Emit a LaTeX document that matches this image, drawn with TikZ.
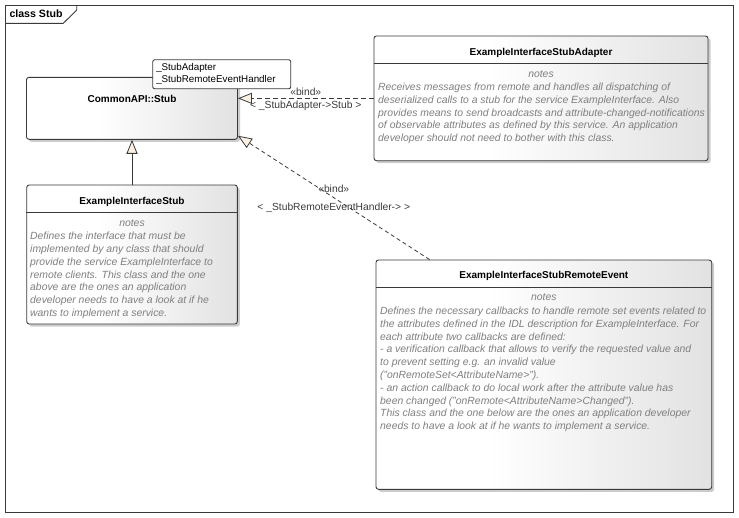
\documentclass[tikz,border=0pt]{standalone}
\usepackage{fontspec}
\setmainfont{Liberation Sans}
\usetikzlibrary{arrows.meta,shadows}
\definecolor{umlline}{HTML}{3A3A3A}
\definecolor{umlnote}{HTML}{7F7F7F}
\definecolor{umlshade}{HTML}{E2E2E2}
\definecolor{tipfill}{HTML}{FCF0E2}
\pgfdeclarehorizontalshading{classshade}{100bp}{color(0bp)=(white); color(25bp)=(white); color(42bp)=(white); color(75bp)=(umlshade); color(100bp)=(umlshade)}
\tikzset{
  classbox/.style={draw=umlline, line width=0.9pt, rounded corners=2.5pt, shading=classshade, inner sep=0pt,
    drop shadow={shadow xshift=2.5pt, shadow yshift=-2.5pt, fill=black!40}},
  classname/.style={font=\fontsize{10}{12}\selectfont\bfseries},
  notehead/.style={font=\fontsize{10.4}{12.8}\selectfont\itshape, text=umlnote},
  notetext/.style={font=\fontsize{10.4}{12.8}\selectfont\itshape, text=umlnote, align=left, inner sep=0pt},
  parambox/.style={draw=umlline, line width=0.9pt, fill=white, rounded corners=2pt, align=left,
    font=\fontsize{9.8}{12}\selectfont, text width=131pt, inner xsep=3.5pt, inner ysep=2.5pt, minimum height=29pt},
  bindlabel/.style={font=\fontsize{10.3}{12}\selectfont, inner sep=2pt},
  bindline/.style={umlline, line width=0.8pt, dash pattern=on 5pt off 3pt, -{Triangle[length=14pt,width=11pt,fill=tipfill]}},
  inheritline/.style={umlline, line width=0.8pt, -{Triangle[length=14pt,width=11pt,fill=tipfill]}}
}
\begin{document}
\begin{tikzpicture}[x=1pt,y=-1pt]
\useasboundingbox (0,0) rectangle (739,517);
% frame
\draw[umlline, line width=0.9pt] (5,5) rectangle (733,512);
\draw[umlline, line width=0.9pt] (5,23.3) -- (63.3,23.3) -- (76.7,10) -- (76.7,5);
\node[classname, font=\fontsize{10.6}{12}\selectfont\bfseries, anchor=west, inner sep=0pt] (frame) at (9.3,14) {class Stub};

% CommonAPI::Stub
\node[classbox, minimum width=211pt, minimum height=62pt] (stub) at (132,108.3) {};
\node[classname] (stubname) at (132,98.7) {CommonAPI::Stub};
\node[parambox, anchor=north west] (params) at (152.3,59.3) {\_StubAdapter\\\_StubRemoteEventHandler};

% ExampleInterfaceStub
\node[classbox, minimum width=210.6pt, minimum height=139pt] (impl) at (132,254.5) {};
\node[classname] (implname) at (132,202) {ExampleInterfaceStub};
\draw[umlline, line width=0.9pt] (impl.west |- 0,212.7) -- (impl.east |- 0,212.7);
\node[notehead] (implhead) at (132,223.3) {notes};
\node[notetext, anchor=north west] (impltext) at (30,232) {Defines the interface that must be\\implemented by any class that should\\provide the service ExampleInterface to\\remote clients. This class and the one\\above are the ones an application\\developer needs to have a look at if he\\wants to implement a service.};

% ExampleInterfaceStubAdapter
\node[classbox, minimum width=334pt, minimum height=124.7pt] (adapter) at (541,98.35) {};
\node[classname] (adaptername) at (541,52.7) {ExampleInterfaceStubAdapter};
\draw[umlline, line width=0.9pt] (adapter.west |- 0,63.3) -- (adapter.east |- 0,63.3);
\node[notehead] (adapterhead) at (541,74.3) {notes};
\node[notetext, anchor=north west] (adaptertext) at (378,82.7) {Receives messages from remote and handles all dispatching of\\deserialized calls to a stub for the service ExampleInterface. Also\\provides means to send broadcasts and attribute-changed-notifications\\of observable attributes as defined by this service. An application\\developer should not need to bother with this class.};

% ExampleInterfaceStubRemoteEvent
\node[classbox, minimum width=335.7pt, minimum height=229.3pt] (remote) at (543.85,374.65) {};
\node[classname] (remotename) at (543.85,275.7) {ExampleInterfaceStubRemoteEvent};
\draw[umlline, line width=0.9pt] (remote.west |- 0,287.3) -- (remote.east |- 0,287.3);
\node[notehead] (remotehead) at (543.85,297) {notes};
\node[notetext, anchor=north west] (remotetext) at (380,306.7) {Defines the necessary callbacks to handle remote set events related to\\the attributes defined in the IDL description for ExampleInterface. For\\each attribute two callbacks are defined:\\- a verification callback that allows to verify the requested value and\\to prevent setting e.g. an invalid value\\("onRemoteSet<AttributeName>").\\- an action callback to do local work after the attribute value has\\been changed ("onRemote<AttributeName>Changed").\\This class and the one below are the ones an application developer\\needs to have a look at if he wants to implement a service.};

% connectors
\draw[inheritline] (impl.north) -- (stub.south);
\draw[bindline] (adapter.west) -- (stub.east |- adapter.west)
  node[bindlabel, pos=0.5, above] (bind1) {«bind»}
  node[bindlabel, pos=0.5, below] (bind1args) {< \_StubAdapter->Stub >};
\draw[bindline, dash pattern=on 4pt off 3pt] ([xshift=54pt]remote.north west) -- ([yshift=4pt]stub.south east)
  node[bindlabel, pos=0.5, above=3pt] (bind2) {«bind»}
  node[bindlabel, pos=0.5, below=3pt] (bind2args) {< \_StubRemoteEventHandler-> >};
\end{tikzpicture}
\end{document}
